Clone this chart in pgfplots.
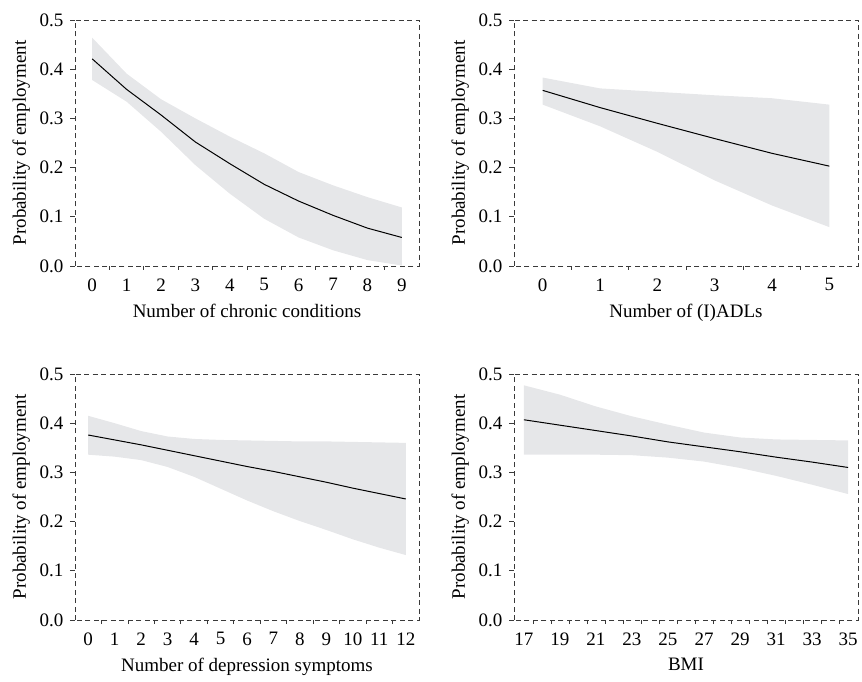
\documentclass[border=0pt]{standalone}
\usepackage{fontspec}
\setmainfont{Liberation Serif}
\usepackage{pgfplots}
\pgfplotsset{compat=1.18}
\usepgfplotslibrary{fillbetween}
\definecolor{bandgray}{HTML}{E6E7E9}
\definecolor{boxgray}{HTML}{3A3A3A}

\pgfplotsset{
  panel/.style={
    scale only axis, width=344pt, height=246pt,
    anchor=south west,
    ymin=0, ymax=0.5, ytick={0,0.1,0.2,0.3,0.4,0.5},
    /pgf/number format/assume math mode=true,
    yticklabel style={/pgf/number format/.cd, fixed, fixed zerofill, precision=1},
    ticklabel style={font=\fontsize{19}{22}\selectfont},
    label style={font=\fontsize{19}{22}\selectfont},
    ylabel={Probability of employment},
    xticklabel shift=4pt, yticklabel shift=3pt,
    xlabel shift=6pt, ylabel shift=3pt,
    axis line style={boxgray, line width=0.8pt, dash pattern=on 5pt off 3.5pt},
    tick align=outside,
    major tick length=5pt, minor tick length=4pt,
    tick style={boxgray, line width=0.8pt, solid},
    major x tick style={draw=none},
    minor x tick style={draw=boxgray},
    xtick pos=bottom, ytick pos=left,
  },
  band/.style={fill=bandgray, draw=none},
  est/.style={black, line width=1pt},
}

\begin{document}
\begin{tikzpicture}

% Number of chronic conditions
\begin{axis}[panel, at={(75pt,415pt)},
  xmin=-0.5, xmax=9.5, xtick={0,1,...,9},
  minor xtick={0.5,1.5,2.5,3.5,4.5,5.5,6.5,7.5,8.5},
  xlabel={Number of chronic conditions}]
\addplot[name path=u1, draw=none] coordinates {
  (0,0.464) (1,0.391) (2,0.339) (3,0.300) (4,0.263) (5,0.229) (6,0.191) (7,0.164) (8,0.140) (9,0.119)};
\addplot[name path=l1, draw=none] coordinates {
  (0,0.378) (1,0.334) (2,0.273) (3,0.205) (4,0.147) (5,0.096) (6,0.058) (7,0.032) (8,0.012) (9,0.001)};
\addplot[band] fill between[of=u1 and l1];
\addplot[est] coordinates {
  (0,0.421) (1,0.359) (2,0.307) (3,0.252) (4,0.208) (5,0.166) (6,0.132) (7,0.103) (8,0.077) (9,0.058)};
\end{axis}

% Number of (I)ADLs
\begin{axis}[panel, at={(514pt,415pt)},
  xmin=-0.5, xmax=5.5, xtick={0,1,...,5},
  minor xtick={0.5,1.5,2.5,3.5,4.5},
  xlabel={Number of (I)ADLs}]
\addplot[name path=u2, draw=none] coordinates {
  (0,0.383) (1,0.361) (2,0.354) (3,0.347) (4,0.341) (5,0.328)};
\addplot[name path=l2, draw=none] coordinates {
  (0,0.328) (1,0.284) (2,0.232) (3,0.174) (4,0.123) (5,0.079)};
\addplot[band] fill between[of=u2 and l2];
\addplot[est] coordinates {
  (0,0.357) (1,0.322) (2,0.290) (3,0.259) (4,0.229) (5,0.203)};
\end{axis}

% Number of depression symptoms
\begin{axis}[panel, at={(75pt,61pt)},
  xmin=-0.5, xmax=12.5, xtick={0,1,...,12},
  minor xtick={0.5,1.5,2.5,3.5,4.5,5.5,6.5,7.5,8.5,9.5,10.5,11.5},
  xlabel={Number of depression symptoms}]
\addplot[name path=u3, draw=none] coordinates {
  (0,0.415) (1,0.400) (2,0.384) (3,0.373) (4,0.368) (5,0.366) (6,0.365)
  (7,0.364) (8,0.363) (9,0.363) (10,0.362) (11,0.361) (12,0.360)};
\addplot[name path=l3, draw=none] coordinates {
  (0,0.336) (1,0.332) (2,0.325) (3,0.311) (4,0.291) (5,0.267) (6,0.243)
  (7,0.221) (8,0.201) (9,0.183) (10,0.164) (11,0.147) (12,0.132)};
\addplot[band] fill between[of=u3 and l3];
\addplot[est] coordinates {
  (0,0.376) (1,0.366) (2,0.356) (3,0.345) (4,0.334) (5,0.323) (6,0.312)
  (7,0.302) (8,0.291) (9,0.280) (10,0.268) (11,0.257) (12,0.246)};
\end{axis}

% BMI
\begin{axis}[panel, at={(514pt,61pt)},
  xmin=16.45, xmax=35.55, xtick={17,19,...,35},
  minor xtick={17.5,18.5,...,34.5},
  xlabel={BMI}]
\addplot[name path=u4, draw=none] coordinates {
  (17,0.477) (19,0.458) (21,0.434) (23,0.414) (25,0.397) (27,0.381)
  (29,0.371) (31,0.367) (33,0.366) (35,0.365)};
\addplot[name path=l4, draw=none] coordinates {
  (17,0.336) (19,0.336) (21,0.336) (23,0.335) (25,0.330) (27,0.322)
  (29,0.309) (31,0.293) (33,0.275) (35,0.256)};
\addplot[band] fill between[of=u4 and l4];
\addplot[est] coordinates {
  (17,0.407) (19,0.396) (21,0.385) (23,0.374) (25,0.362) (27,0.352)
  (29,0.342) (31,0.331) (33,0.321) (35,0.310)};
\end{axis}

\path (0,0) rectangle (862pt,681pt);
\end{tikzpicture}
\end{document}
